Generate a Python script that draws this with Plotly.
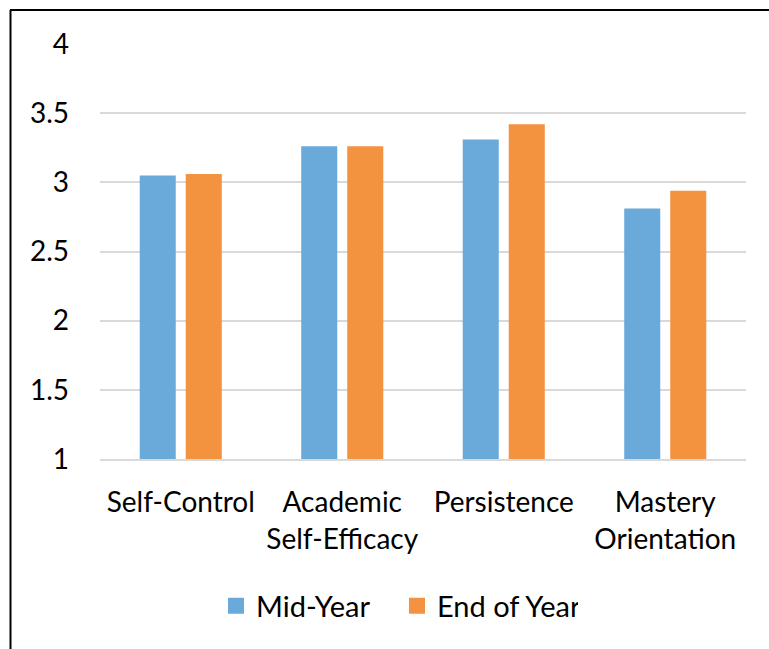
import plotly.graph_objects as go

categories = ["Self-Control", "Academic<br>Self-Efficacy", "Persistence", "Mastery<br>Orientation"]
mid_year = [3.05, 3.26, 3.31, 2.81]
end_of_year = [3.06, 3.26, 3.42, 2.94]
y_ticks = [1, 1.5, 2, 2.5, 3, 3.5, 4]
y_tick_labels = ["1", "1.5", "2", "2.5", "3", "3.5", "4"]

FONT = "Lato"
BLUE = "#6AAADB"
ORANGE = "#F3923F"

fig = go.Figure()
fig.add_trace(go.Bar(name="Mid-Year", x=categories, y=mid_year, showlegend=False,
                     marker=dict(color=BLUE, line=dict(width=0))))
fig.add_trace(go.Bar(name="End of Year", x=categories, y=end_of_year, showlegend=False,
                     marker=dict(color=ORANGE, line=dict(width=0))))
# square legend keys
for name, color in (("Mid-Year", BLUE), ("End of Year", ORANGE)):
    fig.add_trace(go.Scatter(name=name, x=[None], y=[None], mode="markers",
                             marker=dict(symbol="square", size=17, color=color)))

L, R, T, B = 100, 23, 44, 190
W, H = 769, 649
pw, ph = W - L - R, H - T - B


def px_x(x):
    return (x - L) / pw


def px_y(y):
    return (H - B - y) / ph


# frame lines along the left and top edges
fig.add_shape(type="line", xref="paper", yref="paper",
              x0=px_x(10.5), x1=px_x(10.5), y0=px_y(10), y1=px_y(H + 5),
              line=dict(color="black", width=2))
fig.add_shape(type="line", xref="paper", yref="paper",
              x0=px_x(10), x1=px_x(W + 5), y0=px_y(10), y1=px_y(10),
              line=dict(color="black", width=2))

fig.update_layout(
    width=W, height=H,
    margin=dict(l=L, r=R, t=T, b=B),
    paper_bgcolor="white", plot_bgcolor="white",
    barmode="group", bargap=0.43, bargroupgap=0.217,
    font=dict(family=FONT, size=28, color="black"),
    showlegend=True,
    legend=dict(orientation="h", x=px_x(216), xanchor="left", y=px_y(606), yanchor="middle",
                font=dict(family=FONT, size=29, color="black"),
                itemsizing="trace", itemwidth=30, entrywidth=136, traceorder="normal"),
    xaxis=dict(showgrid=False, showline=True, linecolor="#d9d9d9", linewidth=1.5,
               ticks="", ticklabelstandoff=18, tickfont=dict(size=28)),
    yaxis=dict(range=[1, 4], tickvals=y_ticks, ticktext=y_tick_labels,
               showgrid=True, gridcolor="#d9d9d9", gridwidth=1.5,
               zeroline=False, showline=False, ticks="",
               ticklabelstandoff=30, tickfont=dict(size=28)),
)

fig.write_html("out.html")
